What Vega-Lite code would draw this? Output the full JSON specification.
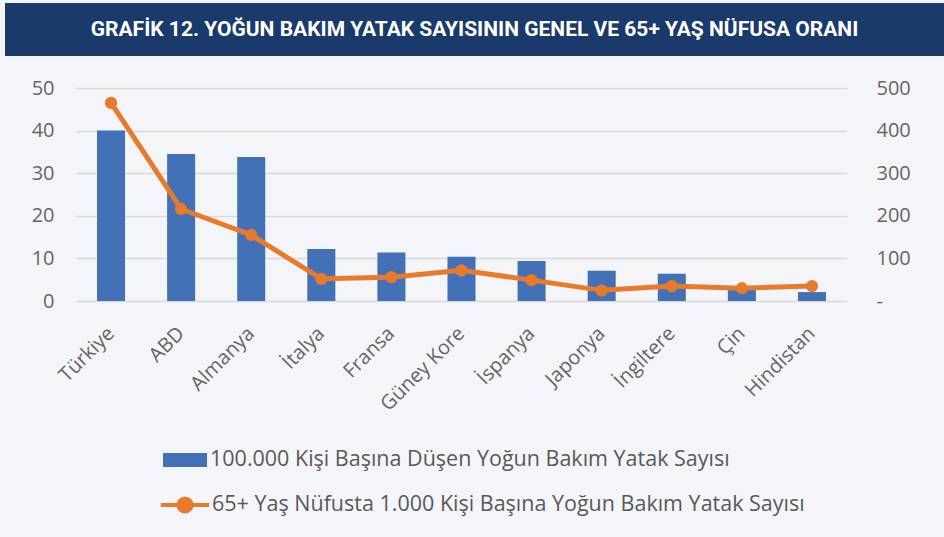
{
  "$schema": "https://vega.github.io/schema/vega-lite/v6.json",
  "background": "#F4F5F9",
  "padding": {"left": 5, "top": 3, "right": 0, "bottom": 20},
  "spacing": 22,
  "config": {"view": {"stroke": null}, "font": "Open Sans"},
  "vconcat": [
    {
      "width": 939,
      "height": 53,
      "view": {"fill": "#1A3A6B", "stroke": null},
      "data": {"values": [{"t": "GRAFİK 12. YOĞUN BAKIM YATAK SAYISININ GENEL VE 65+ YAŞ NÜFUSA ORANI"}]},
      "mark": {"type": "text", "color": "white", "font": "Roboto", "fontWeight": "bold", "fontSize": 21, "align": "center", "baseline": "middle"},
      "encoding": {"text": {"field": "t"}}
    },
    {
      "spacing": 0,
      "hconcat": [
        {
          "width": 1,
          "height": 1,
          "data": {"values": []},
          "mark": "text",
          "encoding": {}
        },
        {
          "width": 771,
          "height": 213,
          "data": {"values": [
            {"country": "Türkiye", "b100k": 40, "b65": 465},
            {"country": "ABD", "b100k": 34.5, "b65": 216},
            {"country": "Almanya", "b100k": 33.8, "b65": 155},
            {"country": "İtalya", "b100k": 12.2, "b65": 52},
            {"country": "Fransa", "b100k": 11.4, "b65": 56},
            {"country": "Güney Kore", "b100k": 10.4, "b65": 72},
            {"country": "İspanya", "b100k": 9.4, "b65": 49},
            {"country": "Japonya", "b100k": 7.1, "b65": 25},
            {"country": "İngiltere", "b100k": 6.4, "b65": 35},
            {"country": "Çin", "b100k": 2.6, "b65": 30},
            {"country": "Hindistan", "b100k": 2.1, "b65": 35}
          ]},
          "encoding": {
            "x": {"field": "country", "type": "nominal", "sort": null,
              "scale": {"paddingInner": 0.6, "paddingOuter": 0.3},
              "axis": {"title": null, "labelAngle": -45, "labelFontSize": 20, "labelColor": "#666666", "ticks": false, "domain": false, "labelPadding": 22, "labelOffset": -7}}
          },
          "layer": [
            {
              "mark": {"type": "bar", "color": "#4371B8"},
              "encoding": {
                "y": {"field": "b100k", "type": "quantitative", "scale": {"domain": [0, 50]},
                  "axis": {"orient": "left", "values": [0, 10, 20, 30, 40, 50], "grid": true, "gridColor": "#D9D9D9", "gridWidth": 1.5, "domain": false, "ticks": false, "labelFontSize": 20, "labelColor": "#666666", "labelPadding": 22, "title": null, "minExtent": 70, "maxExtent": 70}},
                "fill": {"datum": "100.000 Kişi Başına Düşen Yoğun Bakım Yatak Sayısı", "scale": {"range": ["#4371B8"]},
                  "legend": {"orient": "none", "legendX": 158, "legendY": 435, "title": null, "symbolType": "M-1,-0.32L1,-0.32L1,0.32L-1,0.32Z", "symbolSize": 1936, "symbolStrokeWidth": 0, "labelFontSize": 21.5, "labelColor": "#595959", "labelLimit": 0, "labelOffset": 3}}
              }
            },
            {
              "encoding": {
                "y": {"field": "b65", "type": "quantitative", "scale": {"domain": [0, 500]},
                  "axis": {"orient": "right", "values": [0, 100, 200, 300, 400, 500], "grid": false, "domain": false, "ticks": false, "labelFontSize": 20, "labelColor": "#666666", "offset": 25, "labelPadding": 4, "title": null, "labelExpr": "datum.value == 0 ? '-' : datum.label"}}
              },
              "layer": [
                {
                  "mark": {"type": "line", "strokeWidth": 5},
                  "encoding": {
                    "stroke": {"datum": "65+ Yaş Nüfusta 1.000 Kişi Başına Yoğun Bakım Yatak Sayısı", "scale": {"range": ["#E97A2C"]},
                      "legend": {"orient": "none", "legendX": 156, "legendY": 478, "title": null, "symbolType": "M-1.1,0L1.1,0M-0.3,0A0.3,0.3,0,1,1,0.3,0A0.3,0.3,0,1,1,-0.3,0Z", "symbolSize": 1936, "symbolStrokeWidth": 4, "symbolFillColor": "#E97A2C", "symbolStrokeColor": "#E97A2C", "labelFontSize": 21.5, "labelColor": "#595959", "labelLimit": 0, "labelOffset": 3,
                        "encode": {"symbols": {"update": {"fill": {"value": "#E97A2C"}, "stroke": {"value": "#E97A2C"}}}}}}
                  }
                },
                {
                  "mark": {"type": "point", "filled": true, "size": 150, "opacity": 1, "color": "#E97A2C"}
                }
              ]
            }
          ],
          "resolve": {"scale": {"y": "independent"}}
        }
      ]
    }
  ]
}
